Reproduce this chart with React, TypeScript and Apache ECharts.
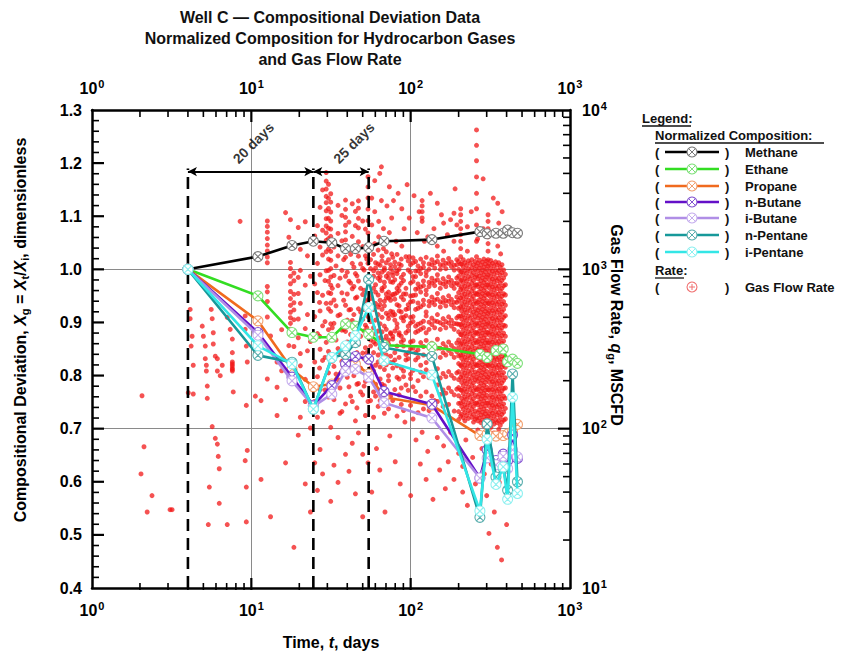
import React, { useEffect, useRef } from 'react';
import * as echarts from 'echarts';

const FONT = '"Liberation Sans", Arial, Helvetica, sans-serif';

// ---------- axes / ticks ----------
const timeDecades = [1, 10, 100, 1000];
const timeMinorTicks = [2, 3, 4, 5, 6, 7, 8, 9, 20, 30, 40, 50, 60, 70, 80, 90, 200, 300, 400, 500, 600, 700, 800, 900];
const rateDecades = [10, 100, 1000, 10000];
const rateMinorTicks = [20, 30, 40, 50, 60, 70, 80, 90, 200, 300, 400, 500, 600, 700, 800, 900, 2000, 3000, 4000, 5000, 6000, 7000, 8000, 9000];
const compMajorTicks = [0.4, 0.5, 0.6, 0.7, 0.8, 0.9, 1.0, 1.1, 1.2, 1.3];
const compMinorStep = 0.02;

// ---------- normalized composition ----------
const sampleTimes = [4, 11, 18, 24.5, 32, 39, 45, 54.5, 68, 136, 272, 302, 343, 381, 406, 436, 468];
const methane = [1.0, 1.024, 1.045, 1.053, 1.05, 1.039, 1.039, 1.041, 1.053, 1.056, 1.071, 1.067, 1.068, 1.068, 1.074, 1.069, 1.068];
const ethane = [1.0, 0.95, 0.881, 0.872, 0.872, 0.897, 0.893, 0.878, 0.857, 0.854, 0.84, 0.834, 0.847, 0.85, 0.826, 0.831, 0.823];
const propane = [1.0, 0.903, 0.812, 0.779, 0.784, 0.822, 0.822, 0.803, 0.759, 0.744, 0.687, 0.69, 0.686, 0.687, 0.69, 0.695, 0.708];
const nButane = [1.0, 0.881, 0.797, 0.744, 0.781, 0.822, 0.836, 0.831, 0.77, 0.746, 0.607, 0.66, 0.64, 0.652, 0.64, 0.688, 0.644];
const iButane = [1.0, 0.876, 0.79, 0.742, 0.765, 0.808, 0.812, 0.797, 0.749, 0.72, 0.607, 0.645, 0.632, 0.648, 0.625, 0.66, 0.647];
const nPentane = [1.0, 0.838, 0.825, 0.737, 0.834, 0.84, 0.862, 0.981, 0.853, 0.836, 0.533, 0.709, 0.609, 0.626, 0.584, 0.803, 0.6];
const iPentane = [1.0, 0.856, 0.822, 0.737, 0.834, 0.856, 0.875, 0.928, 0.828, 0.801, 0.545, 0.68, 0.595, 0.628, 0.567, 0.759, 0.578];

const componentNames = ['Methane', 'Ethane', 'Propane', 'n-Butane', 'i-Butane', 'n-Pentane', 'i-Pentane'];
const componentValues = [methane, ethane, propane, nButane, iButane, nPentane, iPentane];
const componentColors = ['#000000', '#33dd22', '#f06a1e', '#6410c8', '#b08ee6', '#17999a', '#33e6e6'];
const markerColors = ['#7a7a7a', '#7fe07a', '#f2a070', '#8454d0', '#c6aeee', '#5aaeae', '#8ef0f0'];
const drawOrder = [0, 1, 2, 4, 3, 6, 5];

// ---------- gas flow rate (MSCFD), read column by column: [time, rates] ----------
const rateEarly: [number, number[]][] = [
  [2.03, [52]], [2.06, [161]], [2.12, [77]], [2.22, [30]], [2.38, [38]], [3.09, [31]], [3.18, [31]],
  [4.02, [168]], [4.13, [560, 490]], [4.19, [330]], [4.25, [380]], [4.32, [250, 165]],
  [4.92, [440]], [5.0, [380]], [5.14, [330, 275]], [5.22, [250, 230]], [5.29, [185, 155]],
  [5.37, [25]], [5.45, [43]], [5.6, [560]], [5.68, [490, 103]], [5.77, [400, 340]],
  [5.94, [285, 87]], [6.12, [275, 230, 80]], [6.2, [67]], [6.29, [56, 34]], [6.38, [215]],
  [6.57, [250]], [7.06, [500, 25]], [7.37, [420]], [7.6, [365, 300, 262, 255, 248, 240, 235, 230]], [7.7, [170]],
  [8.5, [2000]], [9.15, [510, 420, 63]], [9.3, [330, 140, 43, 26]], [9.43, [262, 73]],
  [10.6, [300, 160]], [11.5, [150, 48]],
  [12.6, [2010, 1860, 1710, 1560, 1420, 1305, 1195, 1100, 780, 722, 628, 502, 205]],
  [13.2, [382, 28]], [14.5, [262, 182, 121]], [15.5, [418, 231]], [16.4, [2270, 152, 61]], [17.2, [1590, 332]],
  [17.6, [2050, 1105, 1012, 905, 812, 726, 655, 594, 538, 497, 458, 421, 198]],
  [18.5, [1395, 948, 848, 698, 617, 556, 483, 398, 328, 18]],
  [19.7, [1830, 890, 705, 488, 372, 91]],
  [20.3, [1335, 985, 612, 296, 248, 118]],
  [21.8, [1990, 795, 425, 204, 148, 45]],
  [22.5, [1215, 520, 308]],
  [23.5, [905, 352, 101, 30]],
];

const rateBetweenMarkers: [number, number[]][] = [
  [25, [1620, 810, 505, 262, 148, 61]],
  [26, [1880, 1090, 715, 395, 212, 118, 41]],
  [26.8, [620, 380, 240]],
  [27, [2450, 1380, 925, 548, 315, 176, 74]],
  [28, [3150, 1760, 1230, 688, 442, 268, 127, 52]],
  [29, [850, 470, 280, 175]],
  [29.5, [4050, 3580, 3190, 2870, 2620, 2330, 2080, 1870, 1690, 1520, 1290, 980, 612, 348]],
  [30.5, [3420, 2790, 2410, 2090, 1810, 1560, 1340, 1160, 985, 842, 713, 566, 418, 305, 224, 158]],
  [31.5, [2980, 2640, 2290, 2010, 1790, 1610, 1440, 1295, 1140, 1010, 895, 795, 705, 615, 545, 455, 378, 102, 35]],
  [32.2, [760, 430, 265]],
  [33, [1380, 915, 642, 458, 246, 152, 59]],
  [34, [1050, 590, 360, 220]],
  [35, [2520, 1680, 1215, 790, 512, 318, 203, 88, 46]],
  [36, [880, 520, 300, 180, 125]],
  [37, [2180, 1510, 985, 712, 415, 264, 128]],
  [38, [1150, 640, 420, 270]],
  [39, [2720, 2380, 2120, 1890, 1720, 1530, 1190, 905, 595, 408, 247, 143, 69]],
  [40, [960, 700, 480, 350, 210]],
  [41, [1980, 1320, 842, 556, 328, 183, 54]],
  [42, [1240, 820, 560, 390, 250, 160]],
  [43, [2580, 1610, 1090, 755, 478, 284, 148, 81]],
  [44, [1030, 780, 520, 340, 215]],
  [45, [2310, 1880, 1310, 940, 660, 395, 232, 112, 39]],
  [46, [910, 670, 455, 300, 190, 135]],
  [47, [2690, 2420, 2090, 1820, 1490, 1210, 845, 565, 338, 192, 94]],
  [48.5, [1080, 760, 540, 380, 240, 170]],
  [50, [2010, 1390, 1015, 695, 485, 298, 163, 69, 28]],
  [51, [990, 740, 560, 410, 275, 185]],
  [52, [1790, 1215, 858, 628, 446, 322, 198, 121]],
  [53, [1160, 860, 600, 430, 300, 205]],
  [54, [3810, 3290, 2810, 2390, 2020, 1690, 1410, 1090, 860, 645, 505, 376, 262, 148, 61]],
];

const rateMid: [number, number[]][] = [
  [56, [1150, 1010, 870, 700, 655, 500, 470, 360, 330, 240, 205, 150]],
  [58.5, [1240, 980, 905, 760, 590, 560, 430, 350, 300, 230, 170, 118]],
  [60.2, [1100, 1020, 800, 720, 610, 480, 395, 340, 250, 190, 160]],
  [62.5, [1320, 1080, 950, 880, 690, 580, 520, 410, 290, 262, 175, 138]],
  [64.3, [1060, 900, 850, 640, 600, 455, 372, 320, 244, 205, 150]],
  [66.1, [1210, 1130, 960, 760, 735, 560, 500, 405, 300, 268, 190, 165]],
  [68.4, [1020, 990, 830, 780, 630, 590, 440, 360, 330, 235, 186, 125]],
  [70.3, [1290, 1100, 905, 700, 660, 530, 420, 380, 290, 252, 170]],
  [72.6, [1150, 940, 880, 720, 660, 515, 490, 360, 340, 215, 200, 133]],
  [74.8, [1070, 1010, 835, 680, 640, 545, 400, 395, 285, 260, 160]],
  [77.2, [1190, 960, 915, 830, 695, 540, 515, 380, 365, 260, 240, 150]],
  [79.5, [1110, 1040, 860, 700, 650, 520, 480, 410, 300, 270, 176]],
  [82.1, [1240, 980, 940, 760, 715, 600, 455, 430, 330, 248, 210, 120]],
  [84.6, [1080, 1000, 790, 735, 590, 548, 400, 388, 280, 205, 163]],
  [87.3, [1160, 1060, 890, 820, 670, 540, 498, 380, 350, 240, 180, 142]],
  [90.2, [930, 850, 700, 645, 500, 475, 360, 330, 230, 212, 130]],
  [93.4, [1200, 760, 700, 560, 512, 400, 292, 270, 188]],
  [96.5, [1130, 990, 600, 568, 440, 412, 300, 275, 174]],
  [99.8, [1070, 960, 820, 680, 625, 500, 460, 350, 318, 220, 206, 140]],
  [103.5, [1180, 1100, 900, 840, 685, 630, 505, 470, 355, 320, 232, 183, 115]],
  [107.4, [1120, 975, 900, 750, 690, 560, 440, 402, 300, 270, 171]],
  [111.2, [1050, 980, 810, 760, 615, 570, 452, 410, 312, 280, 200, 126]],
  [115.6, [1160, 1010, 940, 775, 720, 582, 460, 420, 347, 250, 226, 160]],
  [120.3, [1100, 1030, 845, 790, 640, 600, 472, 430, 328, 290, 212, 133]],
  [125.1, [1190, 960, 910, 740, 695, 540, 510, 400, 358, 260, 234, 170]],
  [130.4, [1080, 1000, 830, 780, 630, 590, 466, 420, 322, 290, 209, 130]],
  [135.8, [1150, 1070, 880, 820, 670, 620, 494, 450, 344, 300, 223, 160]],
  [141.5, [1100, 1020, 845, 790, 642, 600, 474, 430, 330, 290, 214, 150]],
  [147.2, [1210, 1120, 925, 860, 705, 650, 520, 470, 364, 320, 238, 188, 148]],
  [153.4, [1070, 1000, 822, 760, 625, 580, 462, 420, 320, 280, 208, 164]],
  [159.8, [1140, 1060, 875, 810, 665, 620, 491, 450, 342, 300, 222, 175, 138]],
  [166.3, [1090, 1010, 836, 780, 636, 590, 470, 430, 326, 290, 212, 167]],
  [173.1, [1170, 1090, 896, 830, 682, 630, 503, 460, 350, 310, 228, 180, 142]],
  [180.2, [1110, 1040, 852, 790, 648, 600, 479, 440, 333, 295, 216, 171]],
  [187.6, [1060, 990, 815, 760, 620, 575, 457, 420, 318, 280, 207, 163, 129]],
  [194.8, [1150, 1070, 882, 820, 671, 620, 496, 455, 345, 305, 224, 177]],
];

const rateDense: [number, number[]][] = [
  [200, [1120, 1000, 905, 800, 715, 640, 570, 508, 452, 405, 360, 322, 287, 256, 228, 203, 181, 161, 144, 128, 114]],
  [206, [2400, 2200, 2000, 1800, 1650, 1500, 1350, 1200, 1080, 960, 850, 750, 660, 580, 510, 450, 390, 340, 290, 250, 210, 175, 145, 120]],
  [209, [1080, 965, 860, 770, 688, 612, 548, 488, 436, 389, 346, 309, 276, 246, 219, 195, 174, 155, 138, 123]],
  [214, [1150, 1030, 918, 818, 730, 652, 582, 520, 463, 413, 368, 329, 293, 262, 233, 208, 186, 166, 148, 132, 117]],
  [219, [1100, 982, 876, 782, 698, 623, 556, 496, 443, 395, 352, 314, 280, 250, 223, 199, 177, 158, 141, 126, 112]],
  [224, [1060, 946, 845, 754, 673, 600, 536, 478, 427, 381, 340, 303, 270, 241, 215, 192, 171, 153, 136, 121]],
  [230, [1130, 1008, 900, 803, 717, 640, 571, 509, 455, 406, 362, 323, 288, 257, 229, 205, 183, 163, 145, 130, 116]],
  [236, [1090, 973, 868, 775, 692, 617, 551, 492, 439, 392, 349, 312, 278, 248, 221, 197, 176, 157, 140, 125]],
  [242, [1150, 1025, 915, 817, 729, 651, 581, 518, 462, 412, 368, 328, 293, 261, 233, 208, 186, 166, 148, 132, 118]],
  [248, [1070, 955, 852, 760, 678, 605, 540, 482, 430, 384, 343, 306, 273, 244, 217, 194, 173, 154, 138, 123, 110]],
  [254, [1120, 1000, 893, 797, 711, 634, 566, 505, 451, 402, 359, 320, 286, 255, 227, 203, 181, 162, 144, 129, 115]],
  [259, [7500, 6000, 4800, 3800, 3000, 2400, 1900, 1500, 1200, 1050, 920, 800, 700, 610, 530, 460, 400, 345, 295, 250, 210, 175, 145, 118]],
  [264, [1095, 978, 872, 778, 695, 620, 553, 494, 441, 393, 351, 313, 279, 249, 222, 198, 177, 158, 141, 126, 112, 98]],
  [270, [1140, 1018, 908, 810, 723, 645, 576, 514, 459, 409, 365, 326, 291, 260, 232, 207, 184, 165, 147, 131, 117]],
  [276, [1065, 950, 848, 757, 675, 603, 538, 480, 428, 382, 341, 304, 272, 242, 216, 193, 172, 154, 137, 122, 109]],
  [282, [1110, 990, 884, 789, 704, 628, 560, 500, 446, 398, 355, 317, 283, 252, 225, 201, 179, 160, 143, 127, 113]],
  [288, [1160, 1035, 924, 825, 736, 657, 586, 523, 467, 416, 371, 331, 296, 264, 235, 210, 187, 167, 149, 133, 119, 104]],
  [294, [1080, 964, 860, 768, 685, 611, 545, 487, 434, 387, 346, 308, 275, 246, 219, 195, 174, 156, 139, 124, 110]],
  [300, [1125, 1004, 896, 800, 714, 637, 568, 507, 453, 404, 360, 322, 287, 256, 229, 204, 182, 162, 145, 129, 115, 100]],
  [306, [2200, 2000, 1800, 1600, 1450, 1300, 1150, 1050, 920, 800, 700, 610, 530, 460, 400, 345, 295, 250, 210, 175, 145, 120, 100]],
  [312, [1075, 959, 856, 764, 682, 608, 543, 485, 432, 386, 344, 307, 274, 245, 218, 195, 174, 155, 138, 123, 110]],
  [319, [1135, 1013, 904, 807, 720, 642, 573, 511, 456, 407, 363, 324, 289, 258, 230, 205, 183, 163, 146, 130, 116, 102]],
  [326, [1090, 973, 868, 775, 691, 617, 550, 491, 438, 391, 349, 311, 278, 248, 221, 197, 176, 157, 140, 125, 111]],
  [333, [1050, 937, 836, 746, 666, 594, 530, 473, 422, 377, 336, 300, 268, 239, 213, 190, 170, 151, 135, 120, 107, 94]],
  [341, [1115, 995, 888, 792, 707, 631, 563, 502, 448, 400, 357, 318, 284, 253, 226, 202, 180, 161, 143, 128, 114]],
  [349, [1065, 950, 848, 757, 675, 602, 537, 479, 428, 382, 340, 304, 271, 242, 216, 192, 172, 153, 137, 122, 109]],
  [357, [1100, 982, 876, 782, 698, 623, 556, 496, 443, 395, 352, 314, 280, 250, 223, 199, 177, 158, 141, 126, 112, 99]],
  [365, [1030, 919, 820, 732, 653, 583, 520, 464, 414, 369, 329, 294, 262, 234, 209, 186, 166, 148, 132, 118, 105]],
  [374, [1070, 955, 852, 760, 678, 605, 540, 482, 430, 384, 343, 306, 273, 244, 217, 194, 173, 154, 138, 123, 110]],
  [383, [990, 883, 788, 703, 627, 560, 500, 446, 398, 355, 317, 283, 252, 225, 201, 179, 160, 143, 127, 113]],
  [393, [930, 800, 690, 595, 512, 441, 380, 327, 282, 243, 209, 180, 155, 134, 115]],
];

const rateSparse: [number, number[]][] = [
  [57, [2800, 1900, 40]], [59.5, [3600, 2300, 1450]], [61, [75]], [63, [2000, 1600]], [64, [4000, 55]],
  [65.5, [4400, 2700]], [67.5, [1800, 1350]], [69, [30]], [71, [2500]], [73.5, [3300, 1700]], [74, [90]],
  [76, [2100, 1250]], [78, [2700]], [80, [62]], [81, [1500]], [83.5, [3000]], [86, [45]], [88, [2400, 1400]],
  [91, [1800]], [92, [110]], [95, [3400]], [98, [2100, 1200]], [100, [38]], [105, [2900]], [108, [85]],
  [110, [1700]], [113, [2300]], [115, [60]], [118, [2700, 2500, 2300, 2100, 2000, 95]], [122, [1500]],
  [125, [48]], [128, [1600, 72]], [133, [3000]], [138, [36]], [140, [1800]], [147, [2600, 1400, 88]],
  [152, [55]], [156, [2200]], [161, [1950, 1300, 78]], [165, [42]], [170, [1650]], [172, [62]],
  [178, [2050, 95]], [187, [2250, 1500, 48]], [190, [3200]], [195, [1900]], [200, [70]], [212, [40, 58]],
  [222, [85]], [227, [1850, 1300, 33]], [240, [2300]], [245, [66]], [255, [45]], [263, [1550, 28]],
  [280, [75]], [285, [3700, 1800]], [290, [52]], [300, [38]], [310, [22]], [320, [60]], [330, [2800]],
  [335, [30]], [350, [18]], [352, [2600, 1400]], [357, [1950]], [360, [46]], [367, [1700, 1250]],
  [372, [15]], [375, [2300]], [390, [70]], [400, [25]],
];

// ---------- annotations ----------
const markerTimes = [4, 24.5, 54.5];
const markerTop = 1.19;
const arrowLevel = 1.184;
const spanLabels = [
  { t: 10.3, v: 1.238, text: '20 days' },
  { t: 44, v: 1.238, text: '25 days' },
];

const MARKER = 'path://M10 0A10 10 0 1 1 10 20A10 10 0 1 1 10 0ZM3.5 3.5L16.5 16.5M16.5 3.5L3.5 16.5';

const powLabel = (v: number) => `{b|10}{s|${Math.round(Math.log10(v))}}`;
const powRich = {
  b: { fontFamily: FONT, fontWeight: 'bold', fontSize: 16, color: '#000' },
  s: { fontFamily: FONT, fontWeight: 'bold', fontSize: 11, color: '#000', padding: [0, 0, 9, 1] },
};

const GRID = { left: 92, right: 279, top: 110, bottom: 65 };
const MAJOR_PX = 12;
const MINOR_PX = 7;

function buildGraphic() {
  const g: any[] = [];
  const titleLines = ['Well C \u2014 Compositional Deviation Data', 'Normalized Composition for Hydrocarbon Gases', 'and Gas Flow Rate'];
  titleLines.forEach((txt, i) => {
    g.push({
      type: 'text', x: 330, y: 17 + i * 21,
      style: { text: txt, fontFamily: FONT, fontWeight: 'bold', fontSize: 16, fill: '#111', align: 'center', verticalAlign: 'middle' },
    });
  });
  const nameRich = {
    b: { fontFamily: FONT, fontWeight: 'bold', fontSize: 16, fill: '#000' },
    i: { fontFamily: FONT, fontWeight: 'bold', fontStyle: 'italic', fontSize: 16, fill: '#000' },
    sub: { fontFamily: FONT, fontWeight: 'bold', fontSize: 11, fill: '#000', padding: [9, 0, 0, 0] },
  };
  g.push({
    type: 'text', x: 20, y: 330, rotation: Math.PI / 2,
    style: {
      text: '{b|Compositional Deviation, }{i|X}{sub|g}{b| = }{i|X}{sub|t}{b|/}{i|X}{sub|i}{b|, dimensionless}',
      rich: nameRich, align: 'center', verticalAlign: 'middle',
    },
  });
  g.push({
    type: 'text', x: 616, y: 325, rotation: -Math.PI / 2,
    style: {
      text: '{b|Gas Flow Rate, }{i|q}{sub|g}{b|, MSCFD}',
      rich: nameRich, align: 'center', verticalAlign: 'middle',
    },
  });

  const lf = { fontFamily: FONT, fontWeight: 'bold', fontSize: 13, fill: '#111' };
  const addText = (x: number, y: number, text: string) =>
    g.push({ type: 'text', x, y, style: { ...lf, text, align: 'left', verticalAlign: 'middle' } });
  const underline = (x1: number, x2: number, y: number) =>
    g.push({ type: 'line', shape: { x1, y1: y, x2, y2: y }, style: { stroke: '#111', lineWidth: 1.3 } });

  addText(642, 118, 'Legend:');
  underline(642, 691, 126);
  addText(655, 135, 'Normalized Composition:');
  underline(655, 824, 143);
  const rowY = [152, 169, 186, 202, 218, 235, 252];
  componentNames.forEach((nm, k) => {
    const y = rowY[k];
    addText(655, y, '(');
    addText(725, y, ')');
    addText(745, y, nm);
    g.push({ type: 'line', shape: { x1: 665, y1: y, x2: 719, y2: y }, style: { stroke: componentColors[k], lineWidth: 2.6 } });
    g.push({ type: 'circle', shape: { cx: 692, cy: y, r: 5 }, style: { fill: '#fff', stroke: markerColors[k], lineWidth: 1.1 } });
    g.push({ type: 'line', shape: { x1: 689, y1: y - 3, x2: 695, y2: y + 3 }, style: { stroke: markerColors[k], lineWidth: 1 } });
    g.push({ type: 'line', shape: { x1: 695, y1: y - 3, x2: 689, y2: y + 3 }, style: { stroke: markerColors[k], lineWidth: 1 } });
  });
  addText(655, 270, 'Rate:');
  underline(655, 684, 278);
  addText(655, 287, '(');
  addText(725, 287, ')');
  addText(745, 287, 'Gas Flow Rate');
  g.push({ type: 'circle', shape: { cx: 692, cy: 287, r: 5 }, style: { fill: '#fff', stroke: '#f07070', lineWidth: 1.1 } });
  g.push({ type: 'line', shape: { x1: 692, y1: 284, x2: 692, y2: 290 }, style: { stroke: '#f07070', lineWidth: 1 } });
  g.push({ type: 'line', shape: { x1: 689, y1: 287, x2: 695, y2: 287 }, style: { stroke: '#f07070', lineWidth: 1 } });
  return g;
}

// tick marks as small filled rects; positions from the chart's axes (convertToPixel)
function buildTicks(chart: any, W: number, H: number) {
  const x0 = GRID.left; const x1 = W - GRID.right; const y0 = GRID.top; const y1 = H - GRID.bottom;
  const safe = (yIdx: number, xy: number[], fb: number[]) => {
    let p: any = null;
    try { p = chart.convertToPixel({ xAxisIndex: 0, yAxisIndex: yIdx }, xy); } catch (e) { p = null; }
    if (!p || !isFinite(p[0]) || !isFinite(p[1])) return fb;
    return p;
  };
  const out: any[] = [];
  const rect = (x: number, y: number, w: number, h: number) =>
    out.push({ type: 'rect', z: 200, silent: true, shape: { x, y, width: w, height: h }, style: { fill: '#000' } });
  [10, 100, ...timeMinorTicks].forEach((v) => {
    const major = timeDecades.includes(v); const len = major ? MAJOR_PX : MINOR_PX; const w = major ? 2.2 : 1.6;
    const fx = x0 + (x1 - x0) * Math.log10(v) / 3;
    const p = safe(0, [v, 0.4], [fx, y1]);
    rect(p[0] - w / 2, y1 - len, w, len);
    rect(p[0] - w / 2, y0, w, len);
  });
  for (let i = 1; i < 45; i++) {
    const v = Math.round((0.4 + i * compMinorStep) * 100) / 100;
    const major = compMajorTicks.some((m) => Math.abs(m - v) < 1e-6);
    const len = major ? MAJOR_PX : MINOR_PX; const w = major ? 2.2 : 1.6;
    const fy = y1 - (y1 - y0) * (v - 0.4) / 0.9;
    const p = safe(0, [1, v], [x0, fy]);
    rect(x0, p[1] - w / 2, len, w);
  }
  [100, 1000, ...rateMinorTicks].forEach((v) => {
    const major = rateDecades.includes(v); const len = major ? MAJOR_PX : MINOR_PX; const w = major ? 2.2 : 1.6;
    const fy = y1 - (y1 - y0) * (Math.log10(v) - 1) / 3;
    const p = safe(1, [1000, v], [x1, fy]);
    rect(x1 - len, p[1] - w / 2, len, w);
  });
  return out;
}

function buildOption() {
  const ratePoints: number[][] = [];
  [rateEarly, rateBetweenMarkers, rateMid, rateDense, rateSparse].forEach((group) =>
    group.forEach(([t, qs]) => qs.forEach((q) => ratePoints.push([t, q]))));

  const frame = { show: true, onZero: false, lineStyle: { color: '#000', width: 2.5 } };
  const grayGrid = { show: true, lineStyle: { color: '#8a8a8a', width: 1 } };
  const xBase = { type: 'log', logBase: 10, min: 1, max: 1000 };

  const series: any[] = [];
  series.push({
    type: 'scatter', name: 'Gas Flow Rate', xAxisIndex: 0, yAxisIndex: 1,
    data: ratePoints, symbol: 'circle', symbolSize: 5, z: 1, silent: true,
    itemStyle: { color: 'rgba(242,20,20,0.92)' },
  });
  markerTimes.forEach((t, i) => {
    series.push({
      type: 'line', xAxisIndex: 0, yAxisIndex: 0, z: 3, silent: true,
      data: [[t, 0.4], [t, markerTop]], showSymbol: false, symbol: 'none',
      lineStyle: { color: '#000', width: 2.6, type: [12, 7] },
      ...(i === 0 ? {
        markLine: {
          silent: true, symbol: ['arrow', 'arrow'], symbolSize: [7, 9],
          label: { show: false },
          lineStyle: { color: '#000', width: 2, type: 'solid' },
          data: [
            [{ coord: [markerTimes[0], arrowLevel] }, { coord: [markerTimes[1], arrowLevel] }],
            [{ coord: [markerTimes[1], arrowLevel] }, { coord: [markerTimes[2], arrowLevel] }],
          ],
        },
      } : {}),
    });
  });
  spanLabels.forEach((s) => {
    series.push({
      type: 'scatter', xAxisIndex: 0, yAxisIndex: 0, symbolSize: 0, silent: true, z: 4,
      data: [[s.t, s.v]],
      label: {
        show: true, position: 'inside', rotate: 45, formatter: s.text,
        fontFamily: FONT, fontWeight: 'bold', fontSize: 14, color: '#000',
      },
    });
  });
  drawOrder.forEach((k) => {
    series.push({
      type: 'line', name: componentNames[k], xAxisIndex: 0, yAxisIndex: 0, z: 5 + k,
      data: sampleTimes.map((t, i) => [t, componentValues[k][i]]),
      symbol: MARKER, symbolSize: 10, showSymbol: true,
      lineStyle: { color: componentColors[k], width: 2.6 },
      itemStyle: { color: '#ffffff', borderColor: markerColors[k], borderWidth: 1.1 },
    });
  });

  return {
    animation: false,
    backgroundColor: '#ffffff',
    textStyle: { fontFamily: FONT },
    grid: { ...GRID, containLabel: false },
    xAxis: [
      {
        ...xBase, position: 'bottom',
        name: '{b|Time, }{i|t}{b|, days}', nameLocation: 'middle', nameGap: 46,
        nameTextStyle: {
          rich: {
            b: { fontFamily: FONT, fontWeight: 'bold', fontSize: 16, color: '#000' },
            i: { fontFamily: FONT, fontWeight: 'bold', fontStyle: 'italic', fontSize: 16, color: '#000' },
          },
        },
        axisLine: frame, axisTick: { show: false },
        axisLabel: { formatter: powLabel, rich: powRich, margin: 12 },
        splitLine: grayGrid,
      },
      {
        ...xBase, position: 'top', axisLine: frame, axisTick: { show: false },
        axisLabel: { formatter: powLabel, rich: powRich, margin: 12 },
        splitLine: { show: false },
      },
    ],
    yAxis: [
      {
        type: 'value', min: 0.4, max: 1.3, interval: 0.1, position: 'left',
        axisLine: frame, axisTick: { show: false },
        axisLabel: { formatter: (v: number) => v.toFixed(1), fontFamily: FONT, fontWeight: 'bold', fontSize: 16, color: '#000', margin: 10 },
        splitLine: { show: false },
      },
      {
        type: 'log', logBase: 10, min: 10, max: 10000, position: 'right', axisLine: frame, axisTick: { show: false },
        axisLabel: { formatter: powLabel, rich: powRich, margin: 12 },
        splitLine: grayGrid,
      },
    ],
    series,
  };
}

export default function App() {
  const ref = useRef<HTMLDivElement>(null);
  useEffect(() => {
    if (!ref.current) return;
    const chart = echarts.init(ref.current, null, { renderer: 'svg' });
    chart.setOption(buildOption() as any);
    let ticks: any[] = [];
    try { ticks = buildTicks(chart, chart.getWidth(), chart.getHeight()); } catch (e) { ticks = []; }
    chart.setOption({ graphic: { elements: [...buildGraphic(), ...ticks] } } as any);
    return () => chart.dispose();
  }, []);
  return <div ref={ref} style={{ position: 'absolute', left: 0, top: 0, width: 849, height: 655, background: '#fff' }} />;
}
